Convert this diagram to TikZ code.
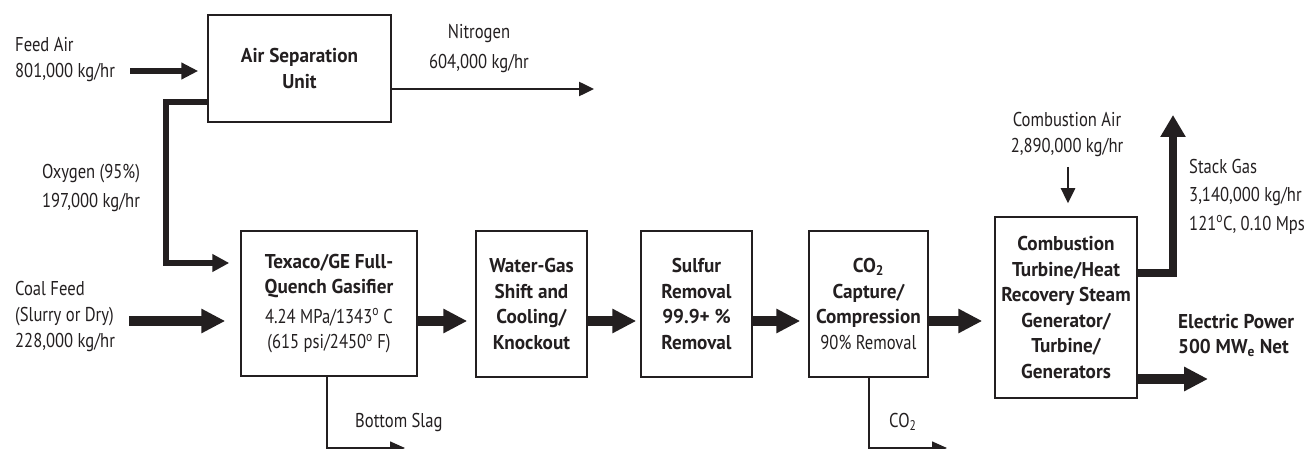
\documentclass[tikz,border=0pt]{standalone}
\usepackage{fontspec}
\setmainfont{PT Sans}[FakeStretch=0.83]
\newfontfamily\bfam{PT Sans}[FakeStretch=0.96]
\usetikzlibrary{arrows.meta}
\definecolor{ink}{HTML}{231F20}
\begin{document}
\begin{tikzpicture}[x=1pt,y=-1pt,
  every node/.style={text=ink},
  box/.style={draw=ink, line width=1.5pt, align=center, inner sep=0pt,
    font=\fontsize{20}{25.5}\selectfont\bfam\bfseries},
  lab/.style={inner sep=0pt, font=\fontsize{20}{26}\selectfont},
  flow/.style={draw=ink, line width=10pt, -{Triangle[length=24pt,width=23pt]}},
  feed/.style={draw=ink, line width=6.5pt, -{Triangle[length=17pt,width=16pt]}},
  oxy/.style={draw=ink, line width=5.5pt, miter limit=10, -{Triangle[length=17pt,width=17pt]}},
  stack/.style={draw=ink, line width=7.5pt, -{Triangle[length=22pt,width=24pt]}},
  thinflow/.style={draw=ink, line width=2.5pt, -{Triangle[length=15pt,width=14pt]}},
  hairflow/.style={draw=ink, line width=1.5pt, -{Triangle[length=15pt,width=13pt]}}
]
\useasboundingbox (0,0) rectangle (1309,449);
\clip (0,0) rectangle (1309,449);

% boxes
\node[box, minimum width=183pt, minimum height=107pt] (asu) at (299.5,68.5) {Air Separation\\Unit};
\node[box, minimum width=176pt, minimum height=145pt] (gas) at (329,303.5)
  {Texaco/GE Full-\\Quench Gasifier\\[4pt]
   {\normalfont 4.24 MPa/1343\textsuperscript{o} C}\\{\normalfont (615 psi/2450\textsuperscript{o} F)}};
\node[box, minimum width=111pt, minimum height=146pt] (wgs) at (531.5,304) {Water-Gas\\Shift and\\Cooling/\\Knockout};
\node[box, minimum width=111pt, minimum height=146pt] (sul) at (696.5,304) {Sulfur\\Removal\\99.9+ \%\\Removal};
\node[box, minimum width=119pt, minimum height=146pt] (cap) at (868.5,304)
  {CO\textsubscript{2}\\Capture/\\Compression\\{\normalfont 90\% Removal}};
\node[box, minimum width=142pt, minimum height=181pt] (cmb) at (1066,307.5)
  {Combustion\\Turbine/Heat\\Recovery Steam\\Generator/\\Turbine/\\Generators};

% labels
\node[lab, anchor=west, align=left] (lfa) at (15,60) {Feed Air\\801,000 kg/hr};
\node[lab, align=center] (lox) at (91,187.5) {Oxygen (95\%)\\[3pt]197,000 kg/hr};
\node[lab, anchor=west, align=left] (lcf) at (15,316) {Coal Feed\\(Slurry or Dry)\\228,000 kg/hr};
\node[lab, align=center] (ln2) at (479,49) {Nitrogen\\[4pt]604,000 kg/hr};
\node[lab, anchor=west] (lsl) at (355,422) {Bottom Slag};
\node[lab, anchor=west] (lco) at (889,422) {CO\textsubscript{2}};
\node[lab, align=center] (lca) at (1067,135) {Combustion Air\\2,890,000 kg/hr};
\node[lab, anchor=west, align=left] (lsg) at (1189,196.5) {Stack Gas\\[2.5pt]3,140,000 kg/hr\\[2.5pt]121\textsuperscript{o}C, 0.10 Mps};
\node[lab, anchor=west, align=left, font=\fontsize{20}{25}\selectfont\bfam\bfseries] (lep) at (1178,335.5) {Electric Power\\500 MW\textsubscript{e} Net};

% coordinates
\coordinate (fa) at (130,71);
\coordinate (n2) at (594,89);
\coordinate (o1) at (166,102);
\coordinate (o2) at (166,263);
\coordinate (cf) at (129,321);
\coordinate (ml) at (0,321);
\coordinate (s1) at (327,448);
\coordinate (s2) at (405,448);
\coordinate (c1) at (869,448);
\coordinate (c2) at (947,448);
\coordinate (ca) at (1068,167);
\coordinate (sg1) at (1173,273);
\coordinate (sg2) at (1173,115);
\coordinate (ep) at (1208,379);

% connectors
\draw[feed, shorten >=9pt] (fa) -- (asu.west |- fa);
\draw[thinflow] (asu.east |- n2) -- (n2);
\draw[oxy, shorten >=11pt] (asu.west |- o1) -- (o1) -- (o2) -- (gas.west |- o2);
\draw[flow, shorten >=15pt] (cf) -- (gas.west |- cf);
\draw[flow, shorten >=8pt] (gas.east |- ml) -- (wgs.west |- ml);
\draw[flow, shorten >=4pt] (wgs.east |- ml) -- (sul.west |- ml);
\draw[flow, shorten >=8pt] (sul.east |- ml) -- (cap.west |- ml);
\draw[flow, shorten >=12pt] (cap.east |- ml) -- (cmb.west |- ml);
\draw[hairflow] (gas.south -| s1) -- (s1) -- (s2);
\draw[hairflow] (cap.south -| c1) -- (c1) -- (c2);
\draw[thinflow, shorten >=13pt] (ca) -- (ca |- cmb.north);
\draw[stack, miter limit=10] (cmb.east |- sg1) -- (sg1) -- (sg2);
\draw[flow] (cmb.east |- ep) -- (ep);
\end{tikzpicture}
\end{document}
